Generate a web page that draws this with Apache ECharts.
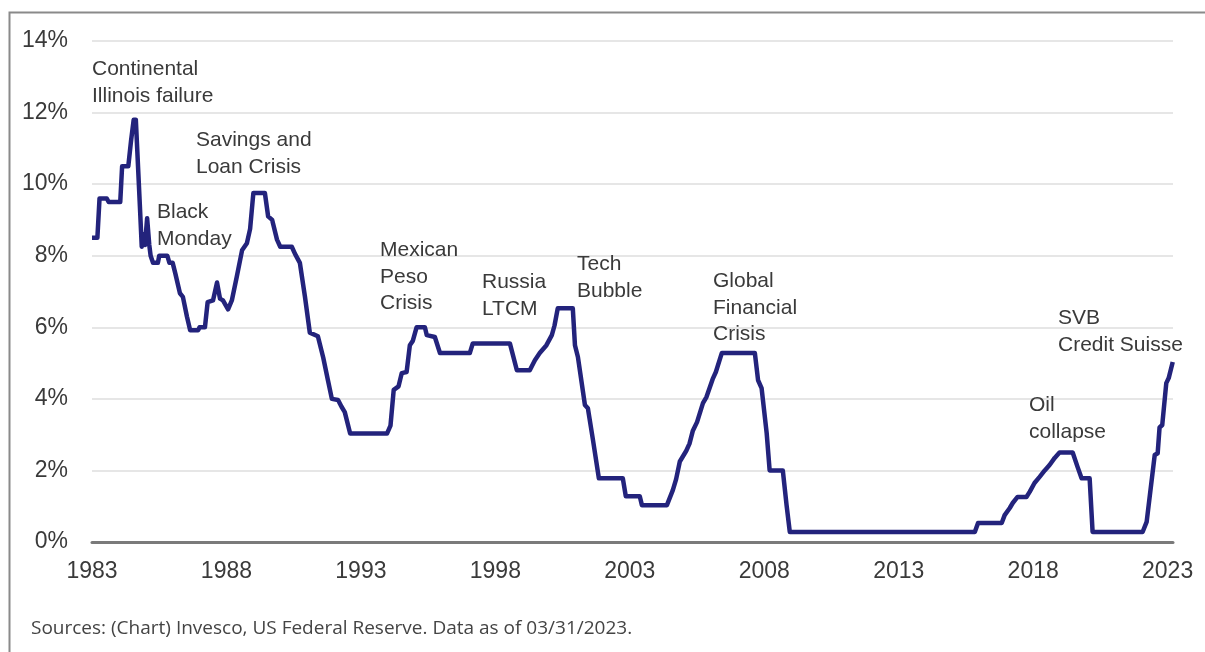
<!DOCTYPE html>
<html>
<head>
<meta charset="utf-8">
<script src="https://cdn.jsdelivr.net/npm/echarts@6/dist/echarts.min.js"></script>
<style>
html,body{margin:0;padding:0;background:#fff;}
#chart{width:1205px;height:652px;}
</style>
</head>
<body>
<div id="chart"></div>
<script>
// Decimal years and fed funds rate (%)
const startYear = 1983;
const dates = [
1983.00,1983.20,1983.28,1983.55,1983.62,1984.05,1984.12,1984.35,1984.45,1984.55,1984.63,1984.78,
1984.85,1984.92,1984.97,1985.05,1985.13,1985.18,1985.27,1985.45,1985.50,1985.80,1985.88,1986.00,
1986.10,1986.27,1986.38,1986.53,1986.65,1986.95,1987.00,1987.20,1987.30,1987.50,1987.65,1987.76,
1987.87,1988.06,1988.20,1988.38,1988.58,1988.76,1988.88,1989.00,1989.43,1989.55,1989.70,1989.88,
1990.00,1990.43,1990.55,1990.73,1990.92,1991.10,1991.40,1991.60,1991.78,1991.92,1992.15,1992.28,
1992.40,1992.60,1993.97,1994.10,1994.22,1994.40,1994.52,1994.70,1994.82,1994.93,1995.07,1995.38,
1995.45,1995.75,1995.94,1997.05,1997.16,1998.54,1998.80,1999.28,1999.47,1999.65,1999.90,2000.10,
2000.20,2000.32,2000.88,2000.96,2001.07,2001.33,2001.44,2001.63,2001.85,2002.74,2002.85,2003.37,
2003.45,2004.38,2004.45,2004.60,2004.72,2004.86,2005.10,2005.22,2005.34,2005.50,2005.72,2005.85,
2006.08,2006.20,2006.42,2007.65,2007.77,2007.90,2008.09,2008.20,2008.69,2008.83,2008.95,2015.83,
2015.95,2016.83,2016.94,2017.13,2017.24,2017.42,2017.75,2017.87,2018.05,2018.24,2018.43,2018.61,
2018.80,2018.98,2019.47,2019.65,2019.80,2020.10,2020.21,2022.07,2022.22,2022.52,2022.63,2022.70,
2022.80,2022.95,2023.04,2023.19
];
const rates = [
8.50,8.50,9.60,9.60,9.50,9.50,10.50,10.50,11.20,11.80,11.80,9.40,
8.25,8.60,8.30,9.05,8.30,8.00,7.80,7.80,8.00,8.00,7.80,7.80,
7.50,6.95,6.85,6.30,5.92,5.92,6.00,6.00,6.70,6.75,7.25,6.80,
6.75,6.50,6.75,7.40,8.15,8.35,8.75,9.75,9.75,9.10,9.00,8.45,
8.25,8.25,8.05,7.80,6.85,5.85,5.75,5.15,4.50,4.00,3.97,3.78,
3.63,3.03,3.03,3.25,4.25,4.35,4.72,4.75,5.50,5.62,6.00,6.00,
5.78,5.73,5.28,5.28,5.55,5.55,4.80,4.80,5.08,5.28,5.50,5.78,
6.05,6.53,6.53,5.50,5.17,3.83,3.74,2.85,1.78,1.78,1.28,1.28,
1.03,1.03,1.03,1.45,1.75,2.25,2.55,2.75,3.10,3.35,3.88,4.05,
4.55,4.75,5.28,5.28,4.52,4.30,3.04,2.00,2.00,1.03,0.28,0.28,
0.53,0.53,0.75,0.95,1.09,1.26,1.26,1.40,1.65,1.82,2.00,2.15,
2.35,2.50,2.50,2.10,1.78,1.78,0.28,0.28,0.56,2.43,2.48,3.20,
3.27,4.44,4.58,5.03
];
const yTicks = [0,2,4,6,8,10,12,14];
const xLabelYears = [1983,1988,1993,1998,2003,2008,2013,2018,2023];
const annotations = [
  'Continental\nIllinois failure',
  'Savings and\nLoan Crisis',
  'Black\nMonday',
  'Mexican\nPeso\nCrisis',
  'Russia\nLTCM',
  'Tech\nBubble',
  'Global\nFinancial\nCrisis',
  'Oil\ncollapse',
  'SVB\nCredit Suisse'
];
const annotationPos = [[92,56],[196,127],[157,199],[380,237],[482,269],[577,251],[713,268],[1029,392],[1058,305]];
const sourceText = 'Sources: (Chart) Invesco, US Federal Reserve. Data as of 03/31/2023.';

const seriesData = dates.map((d, i) => [d - startYear, rates[i]]);
const labelFont = '"Liberation Sans", Arial, sans-serif';
const textColor = '#3a3a3a';

const graphics = annotations.map((t, i) => ({
  type: 'text', left: annotationPos[i][0], top: annotationPos[i][1], z: 10,
  style: { text: t, font: '21px ' + labelFont, lineHeight: 26.5, fill: textColor }
}));
graphics.push({
  type: 'text', left: 31, top: 619, z: 10,
  style: { text: sourceText, font: '19px "Open Sans", sans-serif', fill: '#444' }
});
graphics.push({
  type: 'rect', left: 7, top: 10, z: 0,
  shape: { width: 1220, height: 680 },
  style: { fill: 'none', stroke: '#8a8a8a', lineWidth: 2 }
});

const chart = echarts.init(document.getElementById('chart'));
chart.setOption({
  animation: false,
  backgroundColor: '#fff',
  grid: { left: 92, right: 32, top: 41, bottom: 110 },
  xAxis: {
    type: 'value', min: 0, max: 40.2, interval: 5,
    axisLine: { show: true, onZero: true, lineStyle: { color: '#7a7a7a', width: 3 } },
    axisTick: { show: false },
    splitLine: { show: false },
    axisLabel: {
      margin: 18, fontSize: 23, color: textColor, fontFamily: labelFont,
      showMaxLabel: false,
      formatter: v => {
        const y = Math.round(v) + startYear;
        return (Math.abs(v - Math.round(v)) < 1e-6 && xLabelYears.includes(y)) ? String(y) : '';
      }
    }
  },
  yAxis: {
    type: 'value', min: yTicks[0], max: yTicks[yTicks.length - 1], interval: 2,
    axisLine: { show: false }, axisTick: { show: false },
    splitLine: { lineStyle: { color: '#dedede', width: 1.5 } },
    axisLabel: { margin: 24, fontSize: 23, color: textColor, fontFamily: labelFont, formatter: '{value}%' }
  },
  series: [{
    type: 'line', data: seriesData, showSymbol: false, symbol: 'none',
    lineStyle: { color: '#23237c', width: 4.5, join: 'round' },
    z: 5
  }],
  graphic: graphics
});
</script>
</body>
</html>
